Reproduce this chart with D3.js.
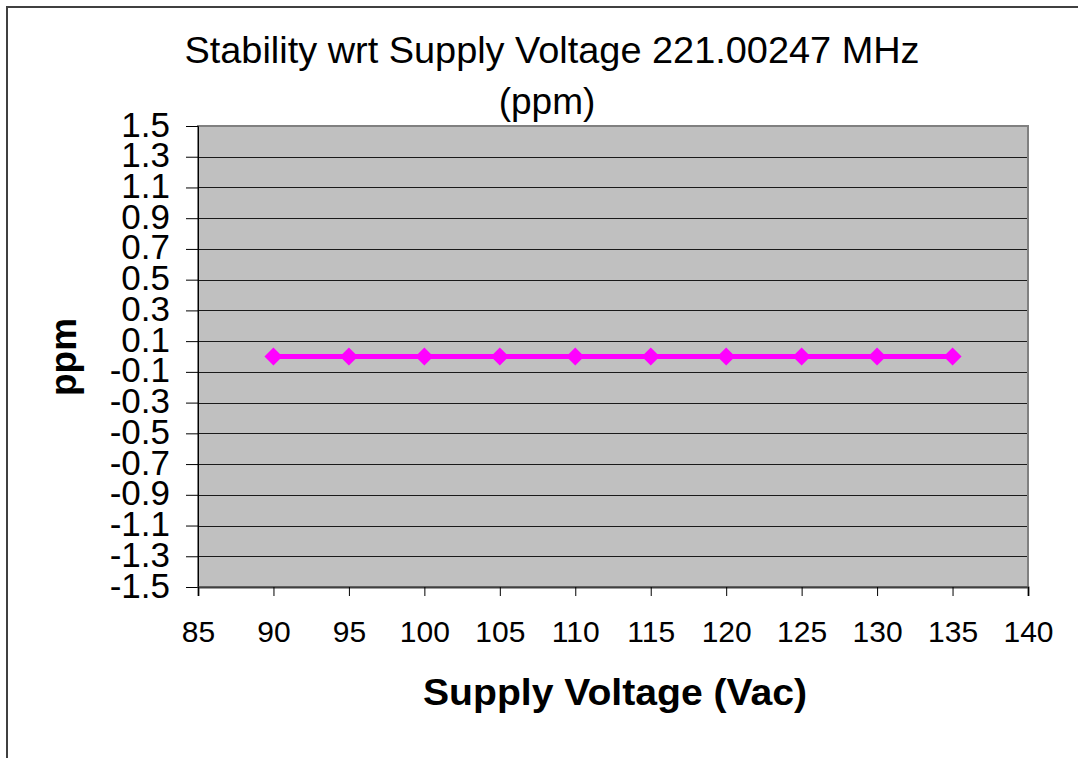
<!DOCTYPE html>
<html><head><meta charset="utf-8">
<script src="https://cdn.jsdelivr.net/npm/d3@7"></script>
<style>body{margin:0;background:#fff;}svg{display:block;font-family:Arial,"Liberation Sans",sans-serif;}</style>
</head><body>
<script>
const voltages = [90, 95, 100, 105, 110, 115, 120, 125, 130, 135];
const ppmValues = [0, 0, 0, 0, 0, 0, 0, 0, 0, 0];
const xTicks = [85, 90, 95, 100, 105, 110, 115, 120, 125, 130, 135, 140];
const yTicks = [1.5, 1.3, 1.1, 0.9, 0.7, 0.5, 0.3, 0.1, -0.1, -0.3, -0.5, -0.7, -0.9, -1.1, -1.3, -1.5];
const titleLines = ["Stability wrt Supply Voltage 221.00247 MHz", "(ppm)"];
const xTitle = "Supply Voltage (Vac)";
const yTitle = "ppm";

const W = 1078, H = 758;
const L = 198, R = 1028, T = 126, B = 587;
const FF = "Arial, 'Liberation Sans', sans-serif";
const svg = d3.select("body").append("svg").attr("width", W).attr("height", H);
svg.append("rect").attr("x", 7).attr("y", 7).attr("width", 1080).attr("height", 800)
  .attr("fill", "#fff").attr("stroke", "#404040").attr("stroke-width", 2);

const x = d3.scaleLinear().domain([85, 140]).range([L, R]);
const y = d3.scaleLinear().domain([-1.5, 1.5]).range([B, T]);

svg.append("rect").attr("x", L).attr("y", T).attr("width", R - L).attr("height", B - T).attr("fill", "#c0c0c0");

// gridlines
svg.append("g").selectAll("line").data(yTicks).join("line")
  .attr("x1", L).attr("x2", R).attr("y1", d => Math.round(y(d)) + 0.5).attr("y2", d => Math.round(y(d)) + 0.5)
  .attr("stroke", "#1a1a1a").attr("stroke-width", 1);

svg.append("rect").attr("x", L).attr("y", T).attr("width", R - L).attr("height", B - T)
  .attr("fill", "none").attr("stroke", "#808080").attr("stroke-width", 2);

const fmt = d => d3.format(".1f")(d).replace("\u2212", "-");
const yAxis = d3.axisLeft(y).tickValues(yTicks).tickFormat(fmt).tickSize(12).tickPadding(16);
const gy = svg.append("g").attr("transform", `translate(${L},0)`).call(yAxis);
gy.select(".domain").attr("stroke", "#000");
gy.selectAll("text").attr("font-size", 35).attr("fill", "#000").attr("font-family", FF).attr("dy", null).attr("y", 10);

const xAxis = d3.axisBottom(x).tickValues(xTicks).tickSize(9);
const gx = svg.append("g").attr("transform", `translate(0,${B})`).call(xAxis);
gx.select(".domain").attr("stroke", "#404040").attr("stroke-width", 2);
gx.selectAll("text").attr("font-size", 30).attr("fill", "#000").attr("font-family", FF).attr("dy", null).attr("y", 55);

const line = d3.line().x((d, i) => x(voltages[i])).y(d => y(d));
svg.append("path").datum(ppmValues).attr("d", line).attr("fill", "none").attr("stroke", "#ff00ff").attr("stroke-width", 5);
svg.append("g").selectAll("path").data(ppmValues).join("path")
  .attr("transform", (d, i) => `translate(${x(voltages[i])},${y(d)})`)
  .attr("d", "M0,-9L9,0L0,9L-9,0Z").attr("fill", "#ff00ff");

svg.append("text").attr("x", 552).attr("y", 63).attr("text-anchor", "middle").attr("font-size", 37)
  .attr("textLength", 735).attr("lengthAdjust", "spacingAndGlyphs").text(titleLines[0]);
svg.append("text").attr("x", 547).attr("y", 114).attr("text-anchor", "middle").attr("font-size", 37).text(titleLines[1]);
svg.append("text").attr("x", 615).attr("y", 705).attr("text-anchor", "middle").attr("font-size", 37).attr("font-weight", "bold")
  .attr("textLength", 384).attr("lengthAdjust", "spacingAndGlyphs").text(xTitle);
svg.append("text").attr("transform", "translate(76,357) rotate(-90)").attr("text-anchor", "middle").attr("font-size", 37).attr("font-weight", "bold")
  .text(yTitle);
</script>
</body></html>
